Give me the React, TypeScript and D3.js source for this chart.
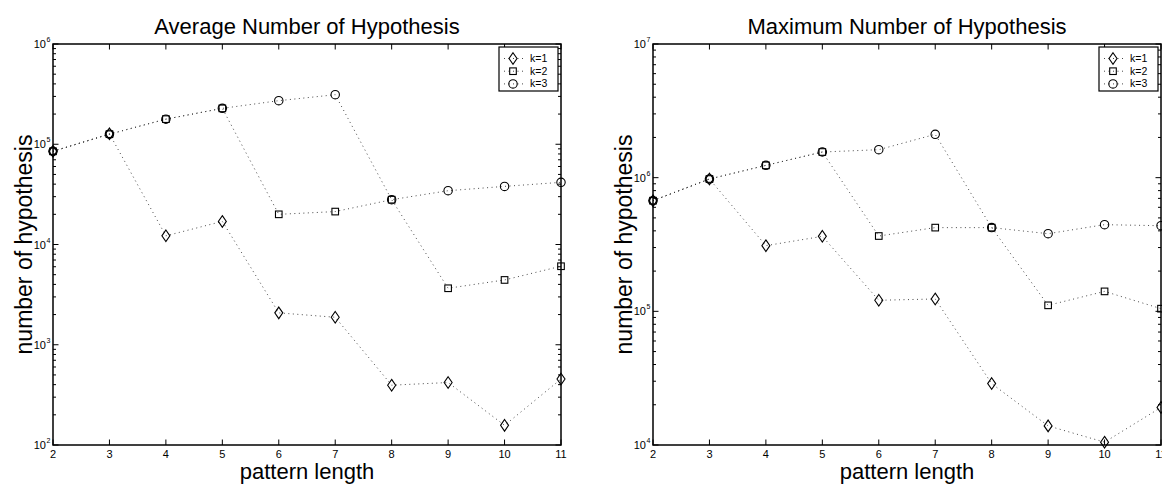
import React from 'react';
import * as d3 from 'd3';

// pattern length on the x axis
const patternLength = [2, 3, 4, 5, 6, 7, 8, 9, 10, 11];
const xTicks = [2, 3, 4, 5, 6, 7, 8, 9, 10, 11];
const seriesLabels = ['k=1', 'k=2', 'k=3'];

// average number of hypothesis
const avgK1 = [85000, 127000, 12200, 17000, 2080, 1880, 395, 420, 157, 455];
const avgK2 = [85000, 126000, 178000, 228000, 20000, 21300, 28000, 3660, 4430, 6070];
const avgK3 = [85000, 126000, 178000, 228000, 272000, 312000, 28000, 34400, 38000, 41700];

// maximum number of hypothesis
const maxK1 = [673000, 977000, 310000, 364000, 121000, 123700, 28800, 13900, 10500, 19100];
const maxK2 = [673000, 977000, 1236000, 1556000, 366000, 423000, 423000, 110900, 141000, 104700];
const maxK3 = [673000, 977000, 1236000, 1556000, 1619000, 2110000, 423000, 381000, 445000, 437000];

const W = 1162;
const H = 484;
const TOP = 44;
const BOTTOM = 445;
const FONT = '"Liberation Sans", Arial, Helvetica, sans-serif';
const shapes = ['diamond', 'square', 'circle'];

function Marker({ shape, cx, cy }: { shape: string; cx: number; cy: number }) {
  const common = { fill: 'none', stroke: '#000', strokeWidth: 1.1 };
  if (shape === 'diamond') {
    return <path d={`M${cx},${cy - 5.8}L${cx + 4},${cy}L${cx},${cy + 5.8}L${cx - 4},${cy}Z`} {...common} />;
  }
  if (shape === 'square') {
    return <rect x={cx - 3.3} y={cy - 3.3} width={6.6} height={6.6} {...common} />;
  }
  return <circle cx={cx} cy={cy} r={4.2} {...common} />;
}

interface PanelProps {
  x0: number;
  x1: number;
  title: string;
  series: number[][];
  yDomain: [number, number];
}

function Panel({ x0, x1, title, series, yDomain }: PanelProps) {
  const x = d3.scaleLinear().domain([2, 11]).range([x0, x1]);
  const y = d3.scaleLog().domain(yDomain).range([BOTTOM, TOP]);
  const line = d3
    .line<number>()
    .x((_, i) => x(patternLength[i]))
    .y(d => y(d));

  const loExp = Math.round(Math.log10(yDomain[0]));
  const hiExp = Math.round(Math.log10(yDomain[1]));
  const majors = d3.range(loExp, hiExp + 1);
  const minors: number[] = [];
  majors.slice(0, -1).forEach(e => {
    for (let m = 2; m <= 9; m++) minors.push(m * Math.pow(10, e));
  });

  const legX = x1 - 62;
  const legY = 47;

  return (
    <g>
      <text x={(x0 + x1) / 2} y={34} textAnchor="middle" fontSize={22} fontFamily={FONT}>
        {title}
      </text>

      {/* lines */}
      {series.map((s, i) => (
        <path key={`l${i}`} d={line(s) || ''} fill="none" stroke="#333" strokeWidth={0.9} strokeDasharray="1 3.5" />
      ))}
      {/* markers */}
      {series.map((s, i) =>
        s.map((v, j) => <Marker key={`m${i}-${j}`} shape={shapes[i]} cx={x(patternLength[j])} cy={y(v)} />)
      )}

      {/* x ticks */}
      {xTicks.map(t => (
        <g key={`xt${t}`}>
          <line x1={x(t)} x2={x(t)} y1={BOTTOM} y2={BOTTOM - 5.5} stroke="#000" />
          <line x1={x(t)} x2={x(t)} y1={TOP} y2={TOP + 5.5} stroke="#000" />
          <text x={x(t)} y={458} textAnchor="middle" fontSize={11} fontFamily={FONT}>
            {t}
          </text>
        </g>
      ))}

      {/* y ticks */}
      {majors.map(e => {
        const yy = y(Math.pow(10, e));
        return (
          <g key={`ym${e}`}>
            <line x1={x0} x2={x0 + 5.5} y1={yy} y2={yy} stroke="#000" />
            <line x1={x1} x2={x1 - 5.5} y1={yy} y2={yy} stroke="#000" />
            <text x={x0 - 7} y={yy + 4} textAnchor="end" fontSize={11} fontFamily={FONT}>
              10
            </text>
            <text x={x0 - 6.5} y={yy - 2} fontSize={7} fontFamily={FONT}>
              {e}
            </text>
          </g>
        );
      })}
      {minors.map(v => (
        <g key={`yn${v}`}>
          <line x1={x0} x2={x0 + 3} y1={y(v)} y2={y(v)} stroke="#000" />
          <line x1={x1} x2={x1 - 3} y1={y(v)} y2={y(v)} stroke="#000" />
        </g>
      ))}

      {/* frame */}
      <rect x={x0} y={TOP} width={x1 - x0} height={BOTTOM - TOP} fill="none" stroke="#000" strokeWidth={1.5} />

      {/* axis labels */}
      <text x={(x0 + x1) / 2} y={479} textAnchor="middle" fontSize={22} fontFamily={FONT}>
        pattern length
      </text>
      <text
        transform={`translate(${x0 - 21},${(TOP + BOTTOM) / 2}) rotate(-90)`}
        textAnchor="middle"
        fontSize={23}
        fontFamily={FONT}
      >
        number of hypothesis
      </text>

      {/* legend */}
      <rect x={legX} y={legY} width={59} height={44} fill="#fff" stroke="#000" strokeWidth={1.2} />
      {seriesLabels.map((lab, i) => {
        const ry = legY + 11.5 + i * 12.7;
        return (
          <g key={lab}>
            <line x1={legX + 5} x2={legX + 24} y1={ry} y2={ry} stroke="#333" strokeWidth={0.9} strokeDasharray="1 3.5" />
            <Marker shape={shapes[i]} cx={legX + 14} cy={ry} />
            <text x={legX + 31} y={ry + 3.5} fontSize={10.5} fontFamily={FONT}>
              {lab}
            </text>
          </g>
        );
      })}
    </g>
  );
}

export default function App() {
  return (
    <svg
      width={W}
      height={H}
      style={{ position: 'absolute', left: 0, top: 0, background: '#fff', overflow: 'hidden' }}
    >
      <rect width={W} height={H} fill="#fff" />
      <Panel x0={53} x1={561} title="Average Number of Hypothesis" series={[avgK1, avgK2, avgK3]} yDomain={[1e2, 1e6]} />
      <Panel x0={653} x1={1161} title="Maximum Number of Hypothesis" series={[maxK1, maxK2, maxK3]} yDomain={[1e4, 1e7]} />
    </svg>
  );
}
